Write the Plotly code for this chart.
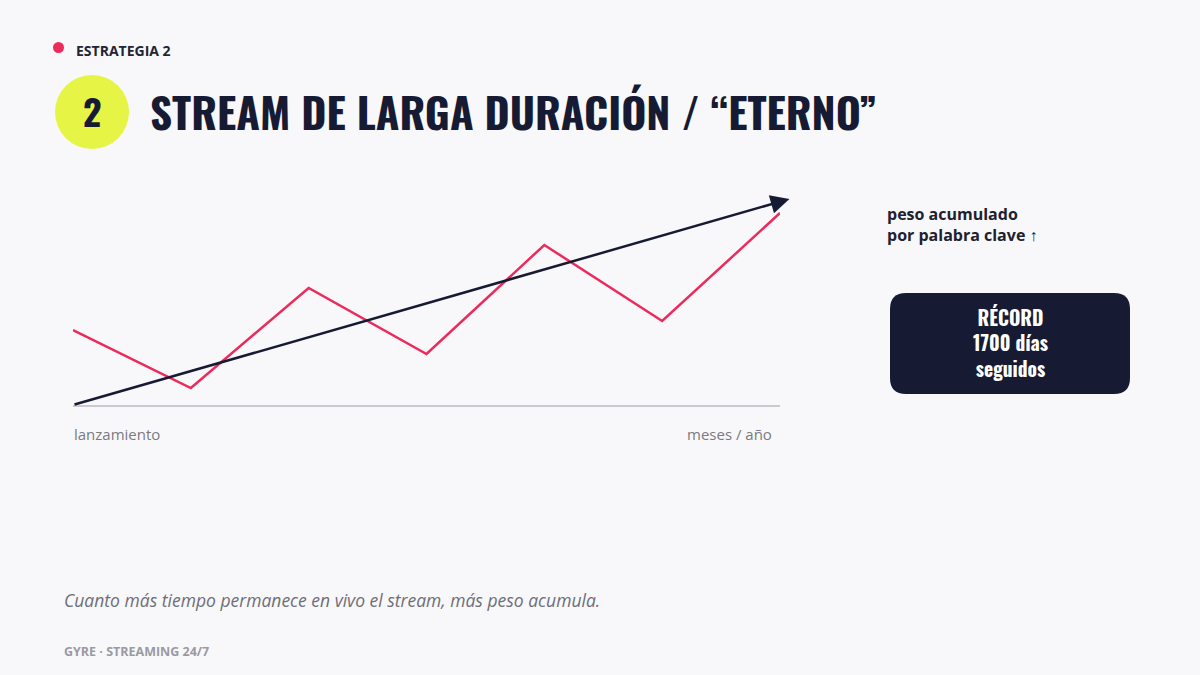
import plotly.graph_objects as go

# ---- data ----
meses = [0, 1, 2, 3, 4, 5, 6]
peso = [0.375, 0.085, 0.585, 0.255, 0.80, 0.42, 0.96]
tendencia_x = [0, 6.08]
tendencia_y = [0, 1.03]
eje_labels = ["lanzamiento", "meses / año"]

W, H = 1200, 675
BG = "#f8f8fa"
NAVY = "#161b33"
RED = "#ec2a5c"
LIME = "#e6f545"
COND = "Oswald, Liberation Sans Narrow, DejaVu Sans Condensed, sans-serif"

def px(x):
    return x / W

def py(y):
    return 1 - y / H

fig = go.Figure()

fig.add_trace(go.Scatter(
    x=meses, y=peso, mode="lines",
    line=dict(color=RED, width=2.5), hoverinfo="skip", showlegend=False,
    cliponaxis=False,
))

fig.update_layout(
    width=W, height=H,
    paper_bgcolor=BG, plot_bgcolor=BG,
    margin=dict(l=0, r=0, t=0, b=0),
    showlegend=False,
    xaxis=dict(domain=[px(73), px(780)], range=[0, 6], showgrid=False, zeroline=False,
               showticklabels=False, showline=True, linecolor="#c9c9ce", linewidth=1.5,
               ticks=""),
    yaxis=dict(domain=[py(405), py(205)], range=[0, 1], showgrid=False, zeroline=False,
               showticklabels=False, showline=False, ticks=""),
)

annotations = []
annotations.append(dict(
    x=tendencia_x[1], y=tendencia_y[1], ax=tendencia_x[0], ay=tendencia_y[0],
    xref="x", yref="y", axref="x", ayref="y", text="", showarrow=True,
    arrowhead=2, arrowsize=1.5, arrowwidth=2.5, arrowcolor=NAVY,
))

annotations.append(dict(x=px(72), y=py(434), xref="paper", yref="paper", text=eje_labels[0],
                        showarrow=False, xanchor="left", yanchor="middle",
                        font=dict(family="Open Sans", size=15, color="#7a7a80")))
annotations.append(dict(x=px(774), y=py(434), xref="paper", yref="paper", text=eje_labels[1],
                        showarrow=False, xanchor="right", yanchor="middle",
                        font=dict(family="Open Sans", size=15, color="#7a7a80")))

annotations.append(dict(x=px(74), y=py(50), xref="paper", yref="paper", text="<b>ESTRATEGIA 2</b>",
                        showarrow=False, xanchor="left", yanchor="middle",
                        font=dict(family="Open Sans", size=14, color="#222533")))
annotations.append(dict(x=px(92), y=py(111), xref="paper", yref="paper", text="<b>2</b>",
                        showarrow=False, xanchor="center", yanchor="middle",
                        font=dict(family=COND, size=36, color=NAVY)))
annotations.append(dict(x=px(148), y=py(110), xref="paper", yref="paper",
                        text="<b>STREAM DE LARGA DURACIÓN / “ETERNO”</b>",
                        showarrow=False, xanchor="left", yanchor="middle",
                        font=dict(family=COND, size=43, color=NAVY)))

annotations.append(dict(x=px(885), y=py(225), xref="paper", yref="paper",
                        text="<b>peso acumulado<br>por palabra clave ↑</b>",
                        showarrow=False, xanchor="left", yanchor="middle", align="left",
                        font=dict(family="Open Sans", size=16, color="#1e2130")))
annotations.append(dict(x=px(1010), y=py(343), xref="paper", yref="paper",
                        text="<b>RÉCORD<br>1700 días<br>seguidos</b>",
                        showarrow=False, xanchor="center", yanchor="middle", align="center",
                        font=dict(family=COND, size=19.5, color="white")))

annotations.append(dict(x=px(62), y=py(600), xref="paper", yref="paper",
                        text="<i>Cuanto más tiempo permanece en vivo el stream, más peso acumula.</i>",
                        showarrow=False, xanchor="left", yanchor="middle",
                        font=dict(family="Open Sans", size=17.5, color="#6e6e78")))
annotations.append(dict(x=px(62), y=py(651), xref="paper", yref="paper",
                        text="<b>GYRE · STREAMING 24/7</b>",
                        showarrow=False, xanchor="left", yanchor="middle",
                        font=dict(family="Open Sans", size=12.5, color="#9a9aa2")))

fig.update_layout(annotations=annotations)

shapes = []
shapes.append(dict(type="circle", xref="paper", yref="paper",
                   x0=px(53), x1=px(64), y0=py(53), y1=py(42),
                   fillcolor=RED, line=dict(width=0)))
shapes.append(dict(type="circle", xref="paper", yref="paper",
                   x0=px(55), x1=px(129), y0=py(149), y1=py(75),
                   fillcolor=LIME, line=dict(width=0)))

x0, x1, y0, y1, r = 890, 1130, 293, 394, 16
def P(x, y):
    return f"{px(x):.5f},{py(y):.5f}"
path = (f"M {P(x0 + r, y0)} L {P(x1 - r, y0)} Q {P(x1, y0)} {P(x1, y0 + r)} "
        f"L {P(x1, y1 - r)} Q {P(x1, y1)} {P(x1 - r, y1)} "
        f"L {P(x0 + r, y1)} Q {P(x0, y1)} {P(x0, y1 - r)} "
        f"L {P(x0, y0 + r)} Q {P(x0, y0)} {P(x0 + r, y0)} Z")
shapes.append(dict(type="path", xref="paper", yref="paper", path=path,
                   fillcolor=NAVY, line=dict(width=0)))
fig.update_layout(shapes=shapes)

fig.write_html("out.html", config={"displayModeBar": False},
               post_script="document.body.style.margin='0';document.body.style.overflow='hidden';")
